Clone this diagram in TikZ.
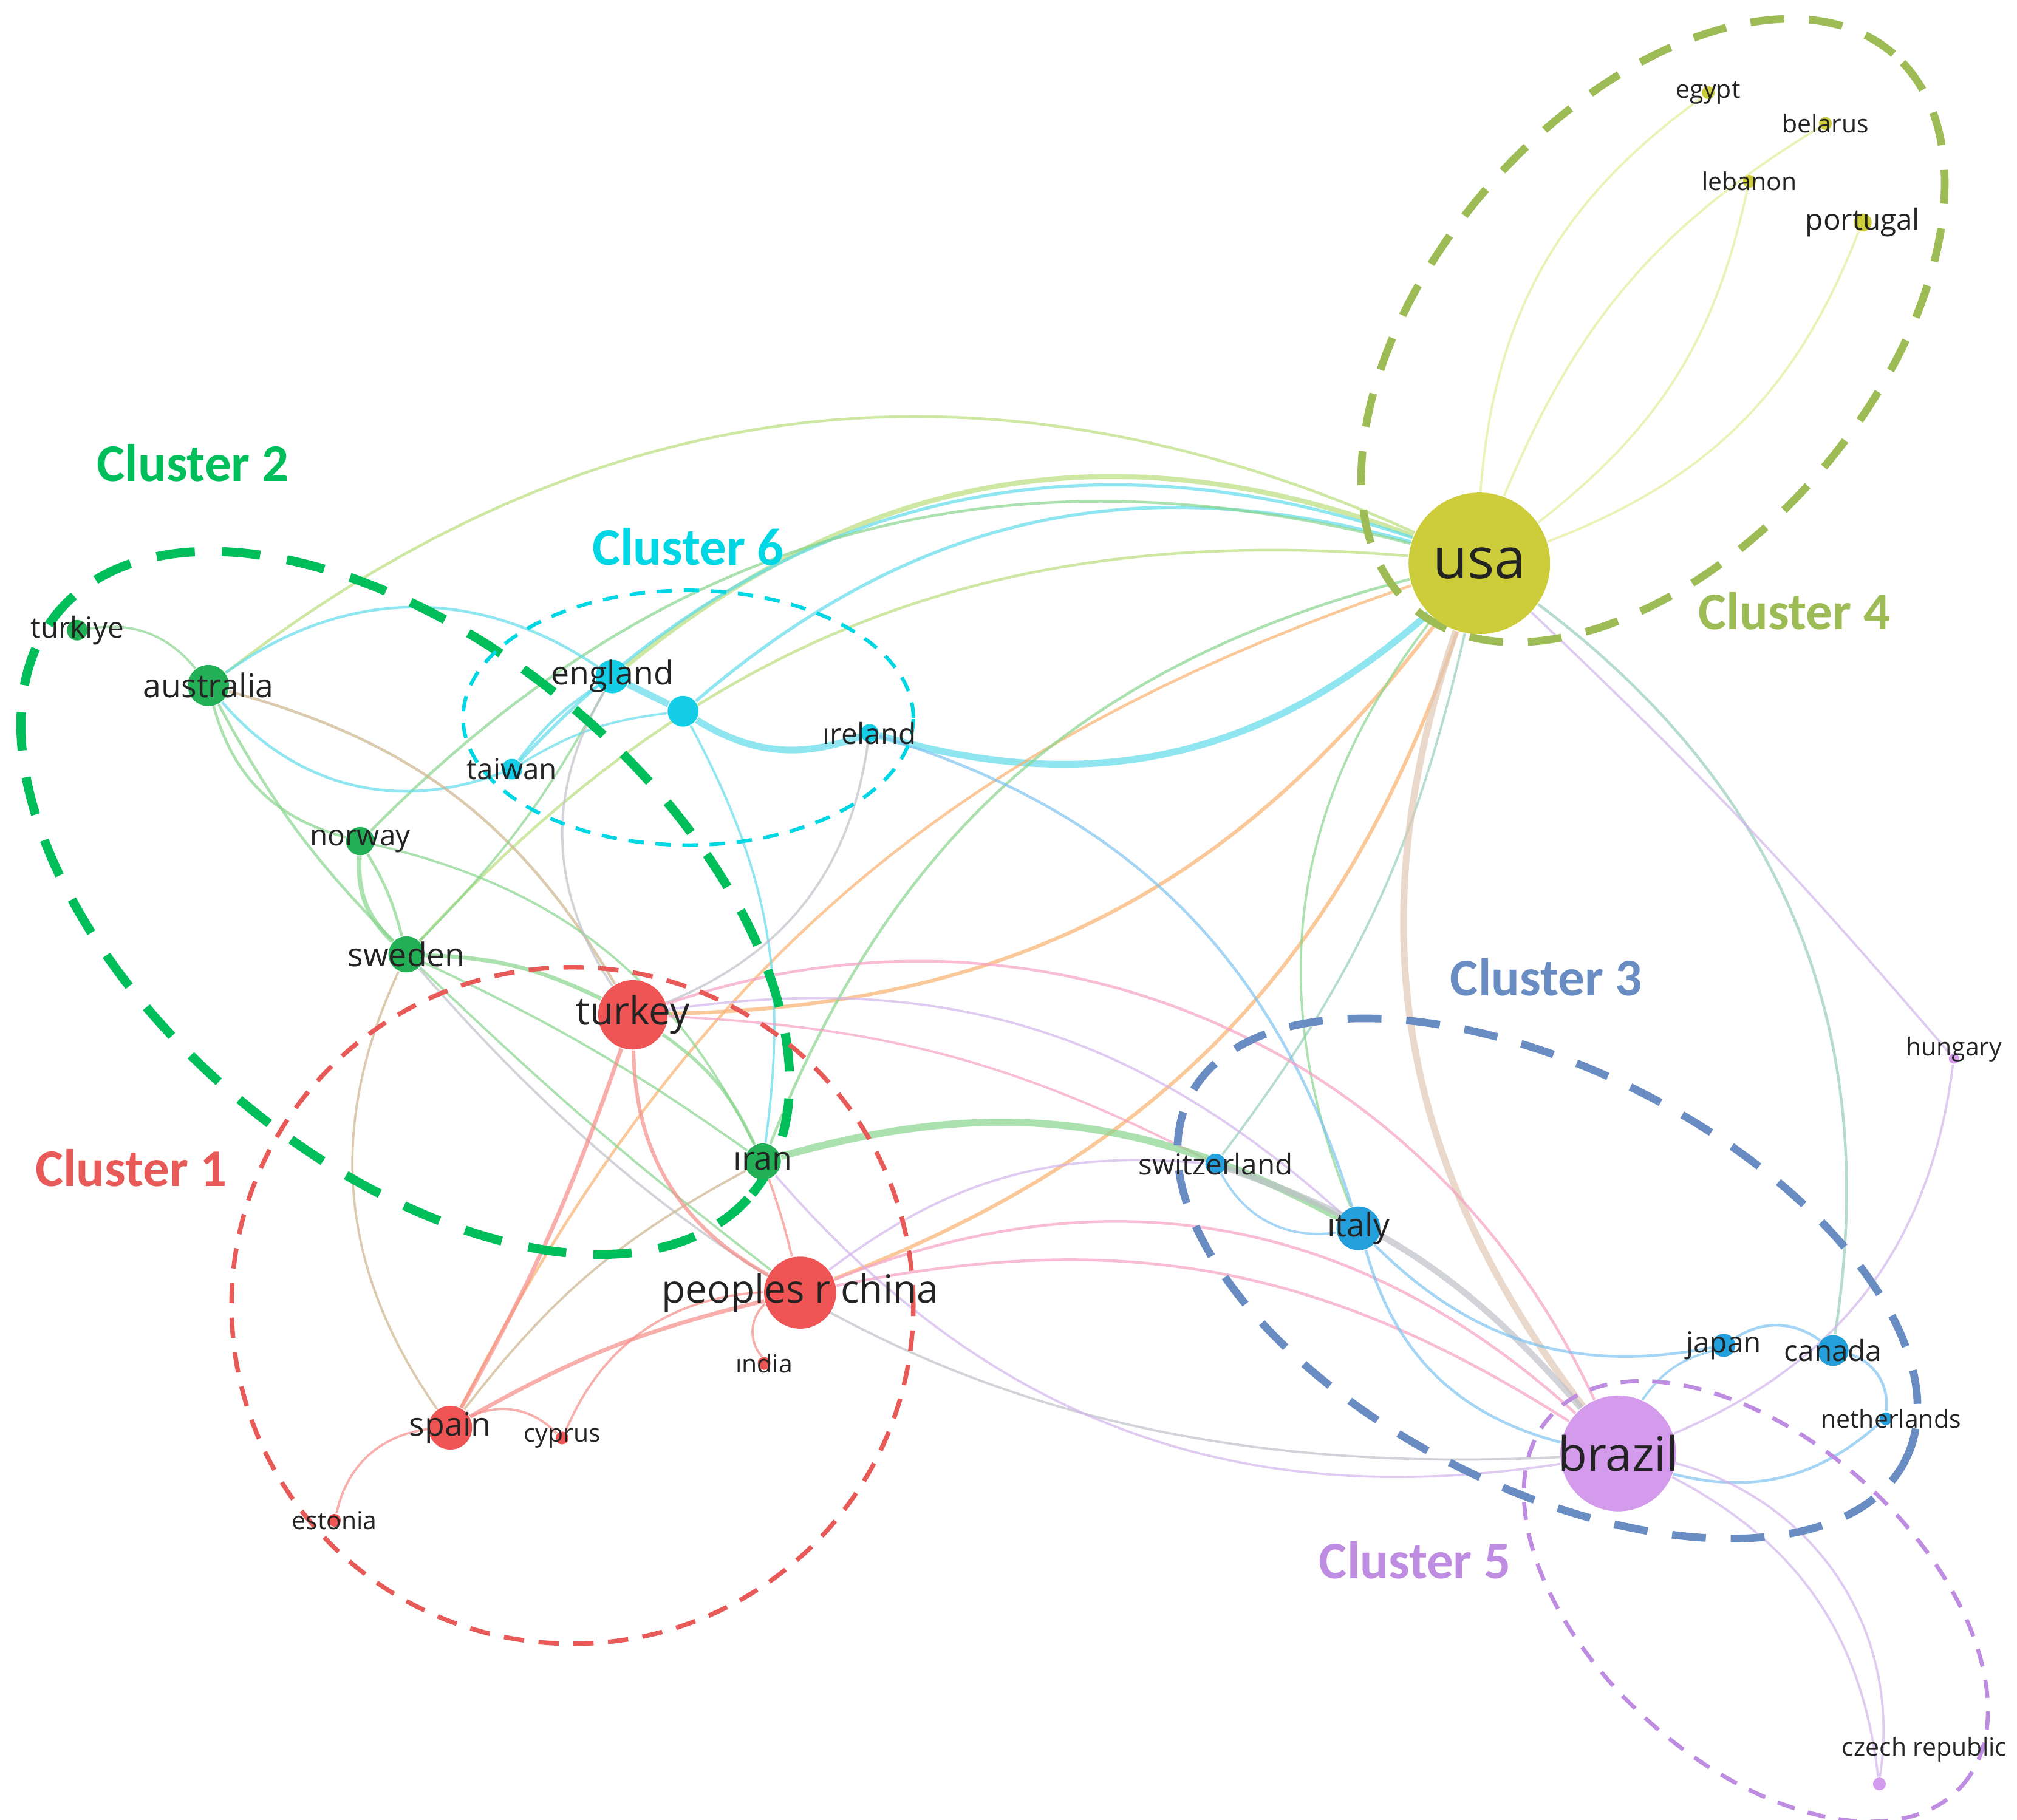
\documentclass[tikz,border=0pt]{standalone}
\usepackage{fontspec}
\setmainfont{Open Sans}
\newfontfamily\clusterfont{Carlito}
\usepackage{tikz}
\usetikzlibrary{backgrounds}
% node colours
\definecolor{nodeRed}{RGB}{240,85,85}
\definecolor{nodeGreen}{RGB}{35,175,85}
\definecolor{nodeBlue}{RGB}{35,160,220}
\definecolor{nodeYellow}{RGB}{205,205,60}
\definecolor{nodePurple}{RGB}{212,155,236}
\definecolor{nodeCyan}{RGB}{20,205,230}
\definecolor{labeltxt}{RGB}{35,35,35}
% cluster outlines
\definecolor{clRed}{RGB}{232,90,88}
\definecolor{clGreen}{RGB}{0,190,90}
\definecolor{clBlue}{RGB}{105,140,195}
\definecolor{clOlive}{RGB}{158,188,85}
\definecolor{clPurple}{RGB}{190,140,225}
\definecolor{clCyan}{RGB}{0,215,228}
% link colours
\definecolor{eYel}{RGB}{228,236,150}
\definecolor{eYG}{RGB}{185,222,125}
\definecolor{eGreen}{RGB}{135,212,140}
\definecolor{eTeal}{RGB}{150,205,185}
\definecolor{eCyan}{RGB}{95,220,235}
\definecolor{eOrange}{RGB}{250,178,110}
\definecolor{eRed}{RGB}{245,140,135}
\definecolor{ePink}{RGB}{245,160,195}
\definecolor{eLilac}{RGB}{210,180,235}
\definecolor{eBlue}{RGB}{125,195,240}
\definecolor{eGrey}{RGB}{190,192,200}
\definecolor{eBrown}{RGB}{205,180,140}
\definecolor{eTan}{RGB}{225,200,180}

\begin{document}
\begin{tikzpicture}[
    gnode/.style={circle, inner sep=0pt, draw=none, fill=#1},
    nm/.style={text=labeltxt, inner sep=0pt},
    fsA/.style={font=\fontsize{12.5}{14}\selectfont},
    fsB/.style={font=\fontsize{10.5}{12}\selectfont},
    fsC/.style={font=\fontsize{8.6}{10}\selectfont},
    fsD/.style={font=\fontsize{7.2}{8}\selectfont},
    fsE/.style={font=\fontsize{6.4}{7}\selectfont},
    fsF/.style={font=\fontsize{5.5}{6}\selectfont},
    link/.style={draw opacity=0.7},
    cltitle/.style={font=\clusterfont\bfseries\fontsize{11.7}{13}\selectfont, inner sep=0pt},
    clring/.style={draw=#1, line cap=butt}
]
    \useasboundingbox (0,0) rectangle (15.68,-14.15);

    % Cluster 4
    \node[gnode=nodeYellow, minimum size=1.10cm, label={[nm,fsA]center:usa}] (usa) at (11.50,-4.38) {};
    \node[gnode=nodeYellow, minimum size=0.10cm, label={[nm,fsF]center:egypt}] (egypt) at (13.28,-0.72) {};
    \node[gnode=nodeYellow, minimum size=0.10cm, label={[nm,fsF]center:belarus}] (belarus) at (14.19,-0.96) {};
    \node[gnode=nodeYellow, minimum size=0.10cm, label={[nm,fsF]center:lebanon}] (lebanon) at (13.60,-1.41) {};
    \node[gnode=nodeYellow, minimum size=0.14cm, label={[nm,fsE]center:portugal}] (portugal) at (14.48,-1.73) {};
    % Cluster 2
    \node[gnode=nodeGreen, minimum size=0.16cm, label={[nm,fsE]center:turkiye}] (turkiye) at (0.60,-4.90) {};
    \node[gnode=nodeGreen, minimum size=0.32cm, label={[nm,fsD]center:australia}] (australia) at (1.62,-5.33) {};
    \node[gnode=nodeGreen, minimum size=0.22cm, label={[nm,fsE]center:norway}] (norway) at (2.80,-6.54) {};
    \node[gnode=nodeGreen, minimum size=0.28cm, label={[nm,fsD]center:sweden}] (sweden) at (3.16,-7.42) {};
    \node[gnode=nodeGreen, minimum size=0.28cm, label={[nm,fsD]center:ıran}] (iran) at (5.93,-9.03) {};
    % Cluster 6
    \node[gnode=nodeCyan, minimum size=0.26cm, label={[nm,fsD]center:england}] (england) at (4.76,-5.26) {};
    \node[gnode=nodeCyan, minimum size=0.24cm] (cyanX) at (5.31,-5.53) {};
    \node[gnode=nodeCyan, minimum size=0.16cm, label={[nm,fsE]center:taiwan}] (taiwan) at (3.98,-5.98) {};
    \node[gnode=nodeCyan, minimum size=0.14cm, label={[nm,fsE]center:ıreland}] (ireland) at (6.76,-5.70) {};
    % Cluster 1
    \node[gnode=nodeRed, minimum size=0.54cm, label={[nm,fsC]center:turkey}] (turkey) at (4.92,-7.89) {};
    \node[gnode=nodeRed, minimum size=0.56cm, label={[nm,fsC]center:peoples r china}] (china) at (6.22,-10.05) {};
    \node[gnode=nodeRed, minimum size=0.10cm, label={[nm,fsF]center:ındia}] (india) at (5.94,-10.60) {};
    \node[gnode=nodeRed, minimum size=0.34cm, label={[nm,fsD]center:spain}] (spain) at (3.50,-11.10) {};
    \node[gnode=nodeRed, minimum size=0.10cm, label={[nm,fsF]center:cyprus}] (cyprus) at (4.37,-11.18) {};
    \node[gnode=nodeRed, minimum size=0.10cm, label={[nm,fsF]center:estonia}] (estonia) at (2.60,-11.82) {};
    % Cluster 3
    \node[gnode=nodeBlue, minimum size=0.16cm, label={[nm,fsE]center:switzerland}] (switzerland) at (9.45,-9.05) {};
    \node[gnode=nodeBlue, minimum size=0.34cm, label={[nm,fsD]center:ıtaly}] (italy) at (10.56,-9.55) {};
    \node[gnode=nodeBlue, minimum size=0.18cm, label={[nm,fsE]center:japan}] (japan) at (13.40,-10.46) {};
    \node[gnode=nodeBlue, minimum size=0.24cm, label={[nm,fsE]center:canada}] (canada) at (14.25,-10.50) {};
    \node[gnode=nodeBlue, minimum size=0.10cm, label={[nm,fsF,xshift=0.04cm]center:netherlands}] (netherlands) at (14.66,-11.03) {};
    % Cluster 5
    \node[gnode=nodePurple, minimum size=0.90cm, label={[nm,fsB]center:brazil}] (brazil) at (12.58,-11.30) {};
    \node[gnode=nodePurple, minimum size=0.08cm, label={[nm,fsF,yshift=0.07cm]center:hungary}] (hungary) at (15.19,-8.23) {};
    \node[gnode=nodePurple, minimum size=0.10cm, label={[nm,fsF,xshift=0.35cm,yshift=0.27cm]center:czech republic}] (czech) at (14.61,-13.87) {};

    \begin{pgfonlayer}{background}
        % Links: from/to/colour/width/bend
        \foreach \a/\b/\c/\w/\k in {
            usa/egypt/eYel/0.5/25, usa/belarus/eYel/0.5/18, usa/lebanon/eYel/0.5/-20, usa/portugal/eYel/0.5/-24,
            australia/usa/eYG/0.6/31, england/usa/eYG/1.1/30, taiwan/usa/eCyan/0.7/33, cyanX/usa/eCyan/0.7/28,
            norway/usa/eGreen/0.6/30, sweden/usa/eYG/0.6/26, ireland/usa/eCyan/1.5/-29, turkey/usa/eOrange/0.8/-26,
            spain/usa/eOrange/0.6/22, iran/usa/eGreen/0.6/27, china/usa/eOrange/0.8/-25, usa/switzerland/eTeal/0.5/12,
            usa/italy/eGreen/0.5/-30, usa/brazil/eTan/1.5/-28, usa/canada/eTeal/0.6/31, usa/hungary/eLilac/0.5/3,
            turkiye/australia/eGreen/0.5/30, australia/england/eCyan/0.6/35, australia/taiwan/eCyan/0.6/-35,
            australia/norway/eGreen/0.6/-30, australia/sweden/eGreen/0.6/-8, australia/turkey/eBrown/0.6/22,
            norway/sweden/eGreen/1.0/-25, norway/sweden/eGreen/0.6/8, norway/iran/eGreen/0.5/25,
            sweden/turkey/eGreen/0.9/12, sweden/iran/eGreen/0.5/5, sweden/china/eGreen/0.5/-3,
            sweden/england/eGreen/0.5/-8, sweden/spain/eBrown/0.5/-30, sweden/brazil/eGrey/0.5/-26,
            england/cyanX/eCyan/1.5/0, cyanX/ireland/eCyan/1.5/-26, england/taiwan/eCyan/0.6/-10,
            taiwan/cyanX/eCyan/0.5/12, cyanX/iran/eCyan/0.5/18, ireland/turkey/eGrey/0.5/30,
            england/turkey/eGrey/0.5/-32, ireland/italy/eBlue/0.6/28,
            turkey/iran/eGreen/0.7/15, turkey/china/eRed/0.8/-30, iran/china/eRed/0.5/3,
            spain/turkey/eRed/0.9/-5, spain/china/eRed/0.9/8, spain/iran/eBrown/0.5/12,
            spain/cyprus/eRed/0.5/35, cyprus/china/eRed/0.5/32, estonia/spain/eRed/0.5/35, china/india/eRed/0.5/-45,
            turkey/italy/eLilac/0.5/25, turkey/switzerland/ePink/0.5/12, turkey/brazil/ePink/0.6/42,
            china/switzerland/eLilac/0.5/21, china/brazil/ePink/0.6/32, china/brazil/ePink/0.6/22,
            iran/italy/eGreen/1.6/22, iran/brazil/eLilac/0.5/-29,
            switzerland/brazil/eGrey/1.4/15, switzerland/italy/eBlue/0.5/-35, italy/japan/eBlue/0.6/-28,
            italy/brazil/eBlue/0.6/-30, japan/canada/eBlue/0.6/35, canada/netherlands/eBlue/0.6/40,
            netherlands/brazil/eBlue/0.6/28, japan/brazil/eBlue/0.5/-20, brazil/hungary/eLilac/0.5/-30,
            brazil/czech/eLilac/0.5/28, brazil/czech/eLilac/0.5/42}{
            \draw[link, draw=\c, line width=\w pt] (\a) to[bend left=\k] (\b);
        }

        % Cluster outlines
        \draw[clring=clGreen, line width=2pt, dash pattern=on 8.5pt off 6pt, shift={(3.15,-7.02)}, rotate=-40] (0,0) ellipse (3.52 and 2.00);
        \draw[clring=clCyan, line width=0.8pt, dash pattern=on 3.4pt off 2.6pt] (5.35,-5.58) ellipse (1.75 and 0.99);
        \draw[clring=clOlive, line width=1.7pt, dash pattern=on 7.5pt off 5.5pt, shift={(12.85,-2.57)}, rotate=49] (0,0) ellipse (2.85 and 1.70);
        \draw[clring=clRed, line width=1pt, dash pattern=on 4.5pt off 3.2pt] (4.45,-10.15) ellipse (2.65 and 2.63);
        \draw[clring=clBlue, line width=1.7pt, dash pattern=on 7.5pt off 5.5pt, shift={(12.03,-9.94)}, rotate=-27] (0,0) ellipse (3.12 and 1.62);
        \draw[clring=clPurple, line width=0.9pt, dash pattern=on 4pt off 3pt, shift={(13.65,-12.45)}, rotate=-42] (0,0) ellipse (2.15 and 1.25);
    \end{pgfonlayer}

    % Cluster titles
    \node[cltitle, text=clGreen] (c2) at (1.50,-3.60) {Cluster 2};
    \node[cltitle, text=clCyan] (c6) at (5.35,-4.25) {Cluster 6};
    \node[cltitle, text=clOlive] (c4) at (13.95,-4.75) {Cluster 4};
    \node[cltitle, text=clBlue] (c3) at (12.02,-7.60) {Cluster 3};
    \node[cltitle, text=clRed] (c1) at (1.02,-9.08) {Cluster 1};
    \node[cltitle, text=clPurple] (c5) at (11.00,-12.13) {Cluster 5};
\end{tikzpicture}
\end{document}
